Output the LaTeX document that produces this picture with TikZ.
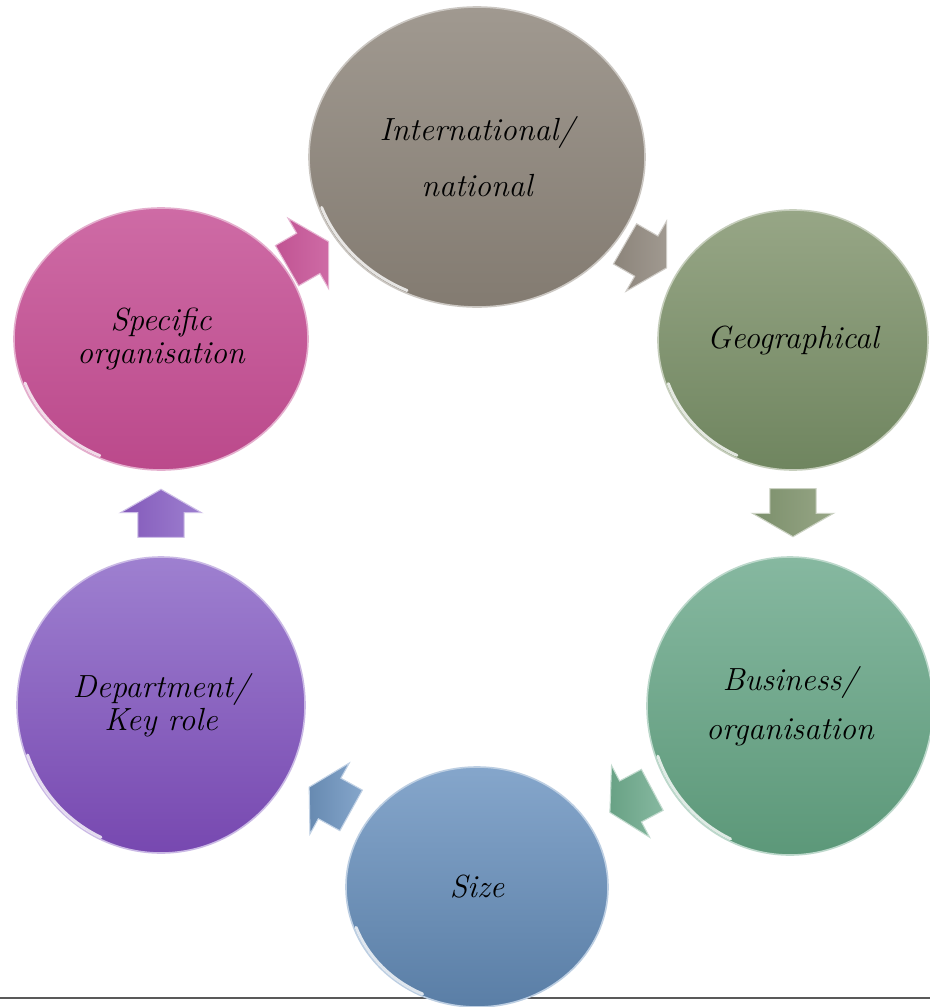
\documentclass[tikz,border=0pt]{standalone}
\usetikzlibrary{shapes.geometric,shapes.arrows}
\definecolor{grayT}{HTML}{A09990}\definecolor{grayB}{HTML}{837B71}
\definecolor{greenT}{HTML}{97A686}\definecolor{greenB}{HTML}{6F855F}
\definecolor{tealT}{HTML}{86B8A0}\definecolor{tealB}{HTML}{5C9879}
\definecolor{blueT}{HTML}{85A6CB}\definecolor{blueB}{HTML}{5A7EA6}
\definecolor{purT}{HTML}{9E80D0}\definecolor{purB}{HTML}{7748B0}
\definecolor{pinkT}{HTML}{CE6BA5}\definecolor{pinkB}{HTML}{BB498B}
\tikzset{
  orb/.style n args={4}{ellipse, inner sep=0pt, outer sep=0pt,
    minimum width=#1, minimum height=#2, top color=#3, bottom color=#4,
    draw=#3!55!white, line width=1.2pt, align=center,
    font=\fontsize{24}{28}\selectfont\itshape},
  blockarrow/.style n args={3}{single arrow, inner xsep=0pt, inner ysep=17pt, outer sep=0pt,
    minimum height=36pt, single arrow head extend=13pt,
    single arrow tip angle=120, rotate=#1,
    left color=#3!70!#2, right color=#2, draw=#2!50!white, line width=0.8pt},
  shine/.style={white, opacity=0.8, line width=2.2pt, line cap=round}
}
\begin{document}
\begin{tikzpicture}[x=0.75pt,y=0.75pt]
\useasboundingbox (0,0) rectangle (930,-1007);
\clip (0,0) rectangle (930,-1007);
\fill[white] (0,0) rectangle (930,-1007);
% bottom rule
\coordinate (ruleL) at (0,-998);
\coordinate (ruleR) at (930,-998);
\draw[line width=1.5pt, black!65] (ruleL) -- (ruleR);
% circles
\node[orb={252pt}{225pt}{grayT}{grayB}] (intl) at (477,-157) {International/\\[14pt]national};
\node[orb={202.5pt}{195pt}{greenT}{greenB}] (geo) at (793,-340) {Geographical};
\node[orb={214.5pt}{223.5pt}{tealT}{tealB}] (bus) at (790,-706) {Business/\\[9pt]organisation};
\node[orb={196.5pt}{180pt}{blueT}{blueB}] (size) at (477,-887) {Size};
\node[orb={216pt}{222pt}{purT}{purB}] (dept) at (161,-705) {Department/\\[-3pt]Key role};
\node[orb={220.5pt}{196.5pt}{pinkT}{pinkB}] (spec) at (161,-339) {Specific\\[-3pt]organisation};
% shine on lower-left rims
\draw[shine] ([shift={(200:124pt and 110.5pt)}]intl.center) arc[start angle=200,end angle=245,x radius=124pt,y radius=110.5pt];
\draw[shine] ([shift={(200:99.5pt and 95.5pt)}]geo.center) arc[start angle=200,end angle=245,x radius=99.5pt,y radius=95.5pt];
\draw[shine] ([shift={(200:105.5pt and 110pt)}]bus.center) arc[start angle=200,end angle=245,x radius=105.5pt,y radius=110pt];
\draw[shine] ([shift={(200:96.5pt and 88.5pt)}]size.center) arc[start angle=200,end angle=245,x radius=96.5pt,y radius=88.5pt];
\draw[shine] ([shift={(200:106.5pt and 109.5pt)}]dept.center) arc[start angle=200,end angle=245,x radius=106.5pt,y radius=109.5pt];
\draw[shine] ([shift={(200:108.5pt and 96.5pt)}]spec.center) arc[start angle=200,end angle=245,x radius=108.5pt,y radius=96.5pt];
% arrows
\node[blockarrow={-30}{grayT}{grayB}] (a1) at (640,-252.5) {};
\node[blockarrow={-90}{greenT}{greenB}] (a2) at (793,-506) {};
\node[blockarrow={208}{tealT}{tealB}] (a3) at (637,-798) {};
\node[blockarrow={151}{blueT}{blueB}] (a4) at (336,-802) {};
\node[blockarrow={90}{purT}{purB}] (a5) at (161,-520) {};
\node[blockarrow={30}{pinkT}{pinkB}] (a6) at (302,-257) {};
\end{tikzpicture}
\end{document}
